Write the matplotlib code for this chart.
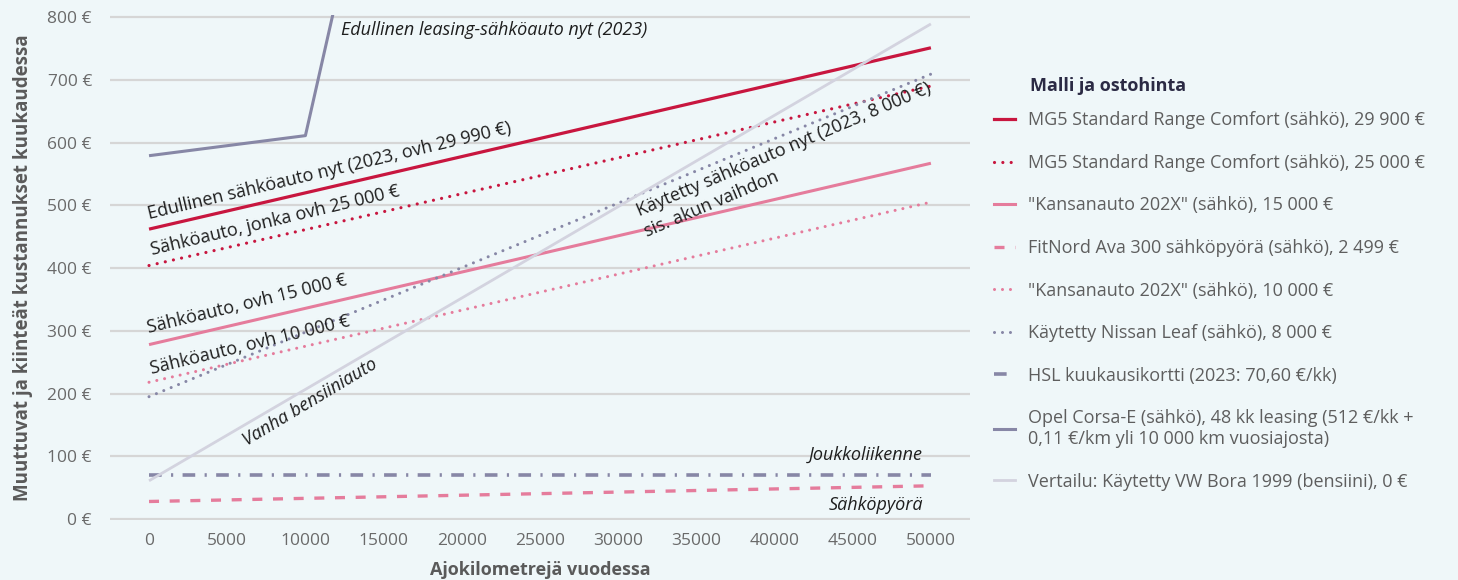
"""Monthly running + fixed costs vs. yearly mileage for several vehicle options."""

import matplotlib as mpl

mpl.use("Agg")
import matplotlib.pyplot as plt
from matplotlib.lines import Line2D

plt.rcParams["font.family"] = ["Open Sans", "DejaVu Sans"]

# yearly kilometres (x) and monthly cost in euros (y)
km = [0, 50000]
mg5_29900 = [462, 751]
mg5_25000 = [404, 690]
kansa_15000 = [278, 567]
fitnord = [28, 53]
kansa_10000 = [218, 505]
leaf_8000 = [195, 709]
hsl = [70.6, 70.6]
opel_km = [0, 10000, 20000]
opel_leasing = [579, 611, 1711]
bora = [61, 789]

labels = [
    "MG5 Standard Range Comfort (sähkö), 29 900 €",
    "MG5 Standard Range Comfort (sähkö), 25 000 €",
    '"Kansanauto 202X" (sähkö), 15 000 €',
    "FitNord Ava 300 sähköpyörä (sähkö), 2 499 €",
    '"Kansanauto 202X" (sähkö), 10 000 €',
    "Käytetty Nissan Leaf (sähkö), 8 000 €",
    "HSL kuukausikortti (2023: 70,60 €/kk)",
    "Opel Corsa-E (sähkö), 48 kk leasing (512 €/kk +\n0,11 €/km yli 10 000 km vuosiajosta)",
    "Vertailu: Käytetty VW Bora 1999 (bensiini), 0 €",
]

CRIMSON = "#C8163F"
PINK = "#E57C9C"
PURPLE = "#8787A6"
LIGHT = "#D3D3DF"
BG = "#EFF7F9"
dotted = (0, (0.01, 2.6))

fig = plt.figure(figsize=(14.58, 5.8), dpi=100)
fig.patch.set_facecolor(BG)
ax = fig.add_axes([0.0754, 0.1029, 0.5899, 0.871])
ax.set_facecolor(BG)

styles = [
    (km, mg5_29900, dict(color=CRIMSON, lw=2.3, ls="-")),
    (km, mg5_25000, dict(color=CRIMSON, lw=2.3, ls=dotted, dash_capstyle="round")),
    (km, kansa_15000, dict(color=PINK, lw=2.2, ls="-")),
    (km, fitnord, dict(color=PINK, lw=2.4, ls=(0, (3.0, 3.2)))),
    (km, kansa_10000, dict(color=PINK, lw=2.2, ls=dotted, dash_capstyle="round")),
    (km, leaf_8000, dict(color=PURPLE, lw=2.2, ls=dotted, dash_capstyle="round")),
    (km, hsl, dict(color=PURPLE, lw=2.6, ls=(0, (3.5, 2.6, 0.6, 2.6)))),
    (opel_km, opel_leasing, dict(color=PURPLE, lw=2.2, ls="-")),
    (km, bora, dict(color=LIGHT, lw=2.0, ls="-")),
]
handles = []
for xs, ys, st in styles:
    ax.plot(xs, ys, solid_capstyle="butt", **st)
    handles.append(Line2D([], [], **st))

ax.set_xlim(-2500, 52500)
ax.set_ylim(-2, 803)
ax.set_xticks(range(0, 50001, 5000))
ax.set_yticks(range(0, 801, 100))
ax.set_yticklabels([f"{v} €" for v in range(0, 801, 100)])
ax.tick_params(length=0, labelsize=12.5, labelcolor="#6A6A6A")
ax.tick_params(axis="y", pad=13)
ax.tick_params(axis="x", pad=9)
ax.grid(True, axis="y", color="#D6D6D6", lw=1.6)
ax.set_axisbelow(True)
for s in ax.spines.values():
    s.set_visible(False)

ax.set_xlabel("Ajokilometrejä vuodessa", fontsize=13, fontweight="bold",
              color="#5A5A5A", labelpad=9)
ax.set_ylabel("Muuttuvat ja kiinteät kustannukset kuukaudessa", fontsize=13.5,
              fontweight="bold", color="#5A5A5A", labelpad=10)

# labels written along the lines
note = dict(fontsize=13, color="#1E1E1E", rotation_mode="anchor",
            ha="left", va="baseline")
ax.text(12300, 772, "Edullinen leasing-sähköauto nyt (2023)", style="italic", **note)
ax.text(0, 478, "Edullinen sähköauto nyt (2023, ovh 29 990 €)", rotation=13.4, **note)
ax.text(190, 420, "Sähköauto, jonka ovh 25 000 €", rotation=13.4, **note)
ax.text(0, 297, "Sähköauto, ovh 15 000 €", rotation=13.6, **note)
ax.text(190, 231, "Sähköauto, ovh 10 000 €", rotation=13.6, **note)
ax.text(6260, 117, "Vanha bensiiniauto", rotation=31, style="italic", **note)
ax.text(31360, 482, "Käytetty sähköauto nyt (2023, 8 000 €)", rotation=23, **note)
ax.text(31870, 450, "sis. akun vaihdon", rotation=23, **note)
ax.text(49500, 94, "Joukkoliikenne", fontsize=13, color="#1E1E1E",
        style="italic", ha="right", va="baseline")
ax.text(49500, 15, "Sähköpyörä", fontsize=13, color="#1E1E1E",
        style="italic", ha="right", va="baseline")

fig.text(0.7064, 0.852, "Malli ja ostohinta", fontsize=13, fontweight="bold",
         color="#2B2A44", va="center", ha="left")
leg = fig.legend(handles, labels, loc="upper left", bbox_to_anchor=(0.682, 0.808),
                 frameon=False, fontsize=13, handlelength=1.15, handletextpad=0.72,
                 labelspacing=1.36, borderpad=0, borderaxespad=0)
for t in leg.get_texts():
    t.set_color("#5E5E5E")

fig.savefig("out.png", dpi=100, facecolor=BG)
